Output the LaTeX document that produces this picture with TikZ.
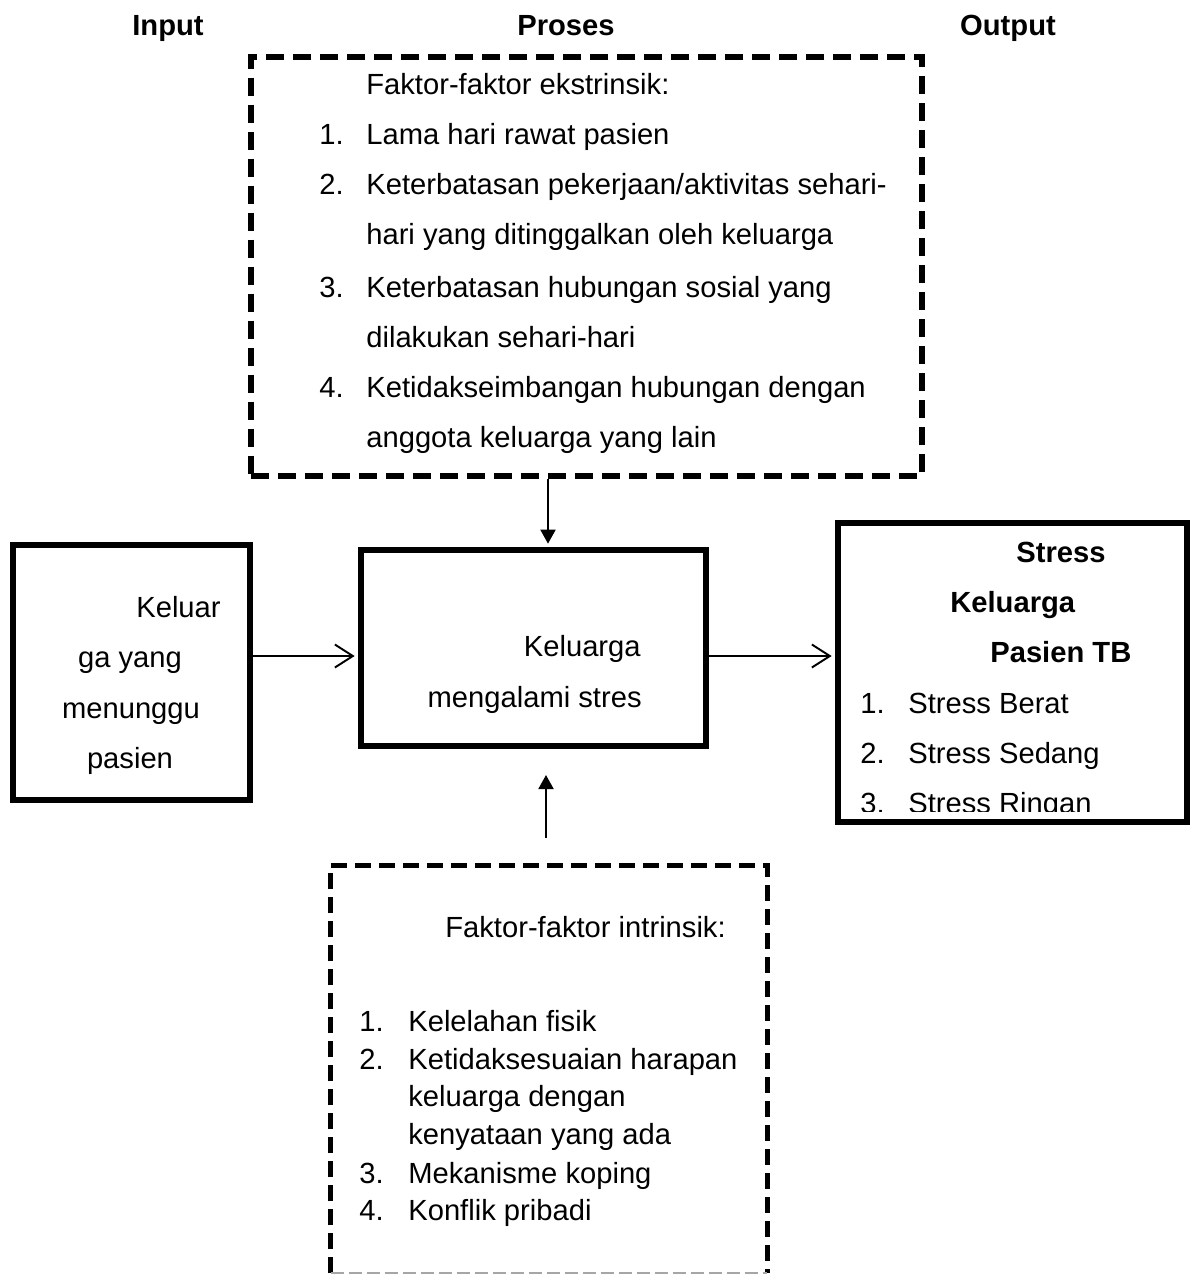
\documentclass[tikz,border=0pt]{standalone}
\usepackage{fontspec}
\setmainfont{Liberation Sans}
\usetikzlibrary{arrows.meta}

\begin{document}
\begin{tikzpicture}[x=0.02cm, y=-0.02cm,
    every node/.style={font=\fontsize{16.6}{20}\selectfont, inner sep=0pt},
    teks/.style={anchor=base west},
    tengah/.style={anchor=base},
    kanan/.style={anchor=base east},
    judul/.style={anchor=base, font=\fontsize{16.6}{20}\selectfont\bfseries},
    kotak/.style={draw, line width=3.6pt},
    putus/.style={line width=3.2pt, dash pattern=on 0.36cm off 0.18cm},
    panahisi/.style={line width=1.1pt, -{Triangle[length=0.28cm, width=0.3cm]}},
    panahbuka/.style={line width=1.1pt, -{Straight Barb[length=0.36cm, width=0.46cm]}}]

      \useasboundingbox (0,0) rectangle (1195,1276);

      \draw (168,35) node[judul] (jinput) {Input};
      \draw (566,35) node[judul] (jproses) {Proses};
      \draw (1008,35) node[judul] (joutput) {Output};

      % kotak
      \node[draw, putus, minimum width=671*0.02cm, minimum height=419*0.02cm] (ekstrinsik) at (586.5,266.5) {};
      \node[kotak, minimum width=237*0.02cm, minimum height=255*0.02cm] (input) at (131.5,672.5) {};
      \node[kotak, minimum width=345*0.02cm, minimum height=196*0.02cm] (proses) at (533.5,648) {};
      \node[kotak, minimum width=349*0.02cm, minimum height=299*0.02cm] (output) at (1012.5,672.5) {};
      \node[minimum width=436*0.02cm, minimum height=407*0.02cm] (intrinsik) at (549,1069.5) {};
      \draw[putus, dash pattern=on 0.32cm off 0.16cm] (intrinsik.south west) -- (intrinsik.north west)
        -- (intrinsik.north east) -- (intrinsik.south east);
      \draw[gray!70, line width=1.2pt, dash pattern=on 0.26cm off 0.1cm] (intrinsik.south west) -- (intrinsik.south east);

      \draw (366,94) node[teks] (e0) {Faktor-faktor ekstrinsik:};
      \draw (319,144) node[teks] (e1n) {1.};
      \draw (366,144) node[teks] (e1) {Lama hari rawat pasien};
      \draw (319,194) node[teks] (e2n) {2.};
      \draw (366,194) node[teks] (e2) {Keterbatasan pekerjaan/aktivitas sehari-};
      \draw (366,244) node[teks] (e2b) {hari yang ditinggalkan oleh keluarga};
      \draw (319,297) node[teks] (e3n) {3.};
      \draw (366,297) node[teks] (e3) {Keterbatasan hubungan sosial yang};
      \draw (366,347) node[teks] (e3b) {dilakukan sehari-hari};
      \draw (319,397) node[teks] (e4n) {4.};
      \draw (366,397) node[teks] (e4) {Ketidakseimbangan hubungan dengan};
      \draw (366,447) node[teks] (e4b) {anggota keluarga yang lain};

      \draw (221,617) node[kanan] (k1) {Keluar};
      \draw (130,667) node[tengah] (k2) {ga yang};
      \draw (131,718) node[tengah] (k3) {menunggu};
      \draw (130,768) node[tengah] (k4) {pasien};

      \draw (641,656) node[kanan] (p1) {Keluarga};
      \draw (642,707) node[kanan] (p2) {mengalami stres};

      \begin{scope}
        \clip (842,527) rectangle (1184,811);
        \draw (1016,562) node[teks, font=\fontsize{16.6}{20}\selectfont\bfseries] (o1) {Stress};
        \draw (950,612) node[teks, font=\fontsize{16.6}{20}\selectfont\bfseries] (o2) {Keluarga};
        \draw (990,662) node[teks, font=\fontsize{16.6}{20}\selectfont\bfseries] (o3) {Pasien TB};
        \draw (860,713) node[teks] (o4n) {1.};
        \draw (908,713) node[teks] (o4) {Stress Berat};
        \draw (860,763) node[teks] (o5n) {2.};
        \draw (908,763) node[teks] (o5) {Stress Sedang};
        \draw (860,813) node[teks] (o6n) {3.};
        \draw (908,813) node[teks] (o6) {Stress Ringan};
      \end{scope}

      \draw (445,937) node[teks] (i0) {Faktor-faktor intrinsik:};
      \draw (359,1031) node[teks] (i1n) {1.};
      \draw (408,1031) node[teks] (i1) {Kelelahan fisik};
      \draw (359,1069) node[teks] (i2n) {2.};
      \draw (408,1069) node[teks] (i2) {Ketidaksesuaian harapan};
      \draw (408,1106) node[teks] (i2b) {keluarga dengan};
      \draw (408,1144) node[teks] (i2c) {kenyataan yang ada};
      \draw (359,1183) node[teks] (i3n) {3.};
      \draw (408,1183) node[teks] (i3) {Mekanisme koping};
      \draw (359,1220) node[teks] (i4n) {4.};
      \draw (408,1220) node[teks] (i4) {Konflik pribadi};

      % panah
      \coordinate (garis) at (0,656);
      \coordinate (sumbu) at (548,0);
      \coordinate (pangkal) at (546,838);
      \coordinate (ujung) at (546,775);
      \draw[panahbuka, shorten >=1.8pt] (input.east |- garis) -- (proses.west |- garis);
      \draw[panahbuka, shorten >=1.8pt] (proses.east |- garis) -- (output.west |- garis);
      \draw[panahisi, shorten >=1.8pt] (ekstrinsik.south -| sumbu) -- (proses.north -| sumbu);
      \draw[panahisi] (pangkal) -- (ujung);
    \end{tikzpicture}
\end{document}
